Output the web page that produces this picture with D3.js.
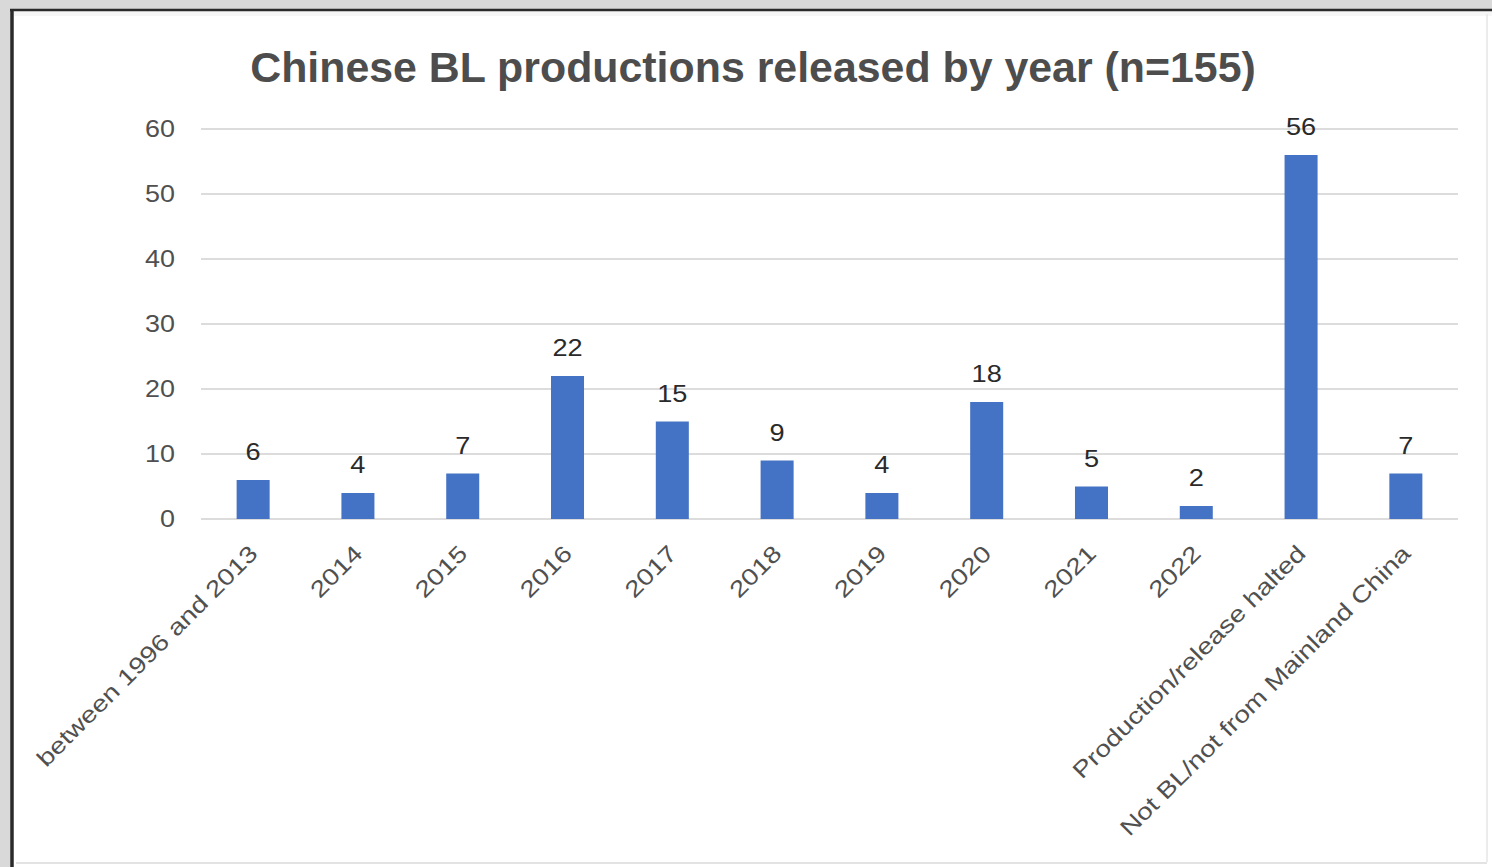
<!DOCTYPE html>
<html><head><meta charset="utf-8">
<script src="https://cdn.jsdelivr.net/npm/d3@7"></script>
<style>
html,body{margin:0;padding:0;background:#d9d9d9;}
svg{display:block;font-family:"Liberation Sans",Arial,Helvetica,sans-serif;}
</style></head>
<body>
<script>
const categories = ["between 1996 and 2013","2014","2015","2016","2017","2018","2019","2020","2021","2022","Production/release halted","Not BL/not from Mainland China"];
const values = [6,4,7,22,15,9,4,18,5,2,56,7];
const yTicks = [0,10,20,30,40,50,60];
const title = "Chinese BL productions released by year (n=155)";

(function(){
const W = 1492, H = 867;
const svg = d3.select("body").append("svg").attr("width", W).attr("height", H);

function widen(sel, f) {
  sel.each(function(){
    const L = this.getComputedTextLength();
    d3.select(this).attr("textLength", L * f).attr("lengthAdjust", "spacingAndGlyphs");
  });
}

// frame
svg.append("rect").attr("x",0).attr("y",0).attr("width",W).attr("height",H).attr("fill","#d9d9d9");
svg.append("rect").attr("x",12).attr("y",10).attr("width",W-12).attr("height",H-10).attr("fill","#ffffff");
svg.append("rect").attr("x",14).attr("y",11).attr("width",W-14).attr("height",5).attr("fill","#f6f6f6");
svg.append("line").attr("x1",10).attr("x2",W).attr("y1",10).attr("y2",10).attr("stroke","#2a2a2a").attr("stroke-width",2.5);
svg.append("line").attr("x1",12).attr("x2",12).attr("y1",9).attr("y2",H).attr("stroke","#2a2a2a").attr("stroke-width",3.5);
svg.append("line").attr("x1",1487).attr("x2",1487).attr("y1",14).attr("y2",862).attr("stroke","#e6e6e6").attr("stroke-width",1.5);
svg.append("line").attr("x1",16).attr("x2",1487).attr("y1",863).attr("y2",863).attr("stroke","#e3e3e3").attr("stroke-width",2);

const pLeft = 201, pRight = 1458, pTop = 129, pBottom = 519;
const x = d3.scaleBand().domain(categories).range([pLeft, pRight]).paddingInner(0.685).paddingOuter(0.34);
const y = d3.scaleLinear().domain([0,60]).range([pBottom, pTop]);

// gridlines
svg.append("g").selectAll("line").data(yTicks).join("line")
  .attr("x1", pLeft).attr("x2", pRight)
  .attr("y1", d => y(d)).attr("y2", d => y(d))
  .attr("stroke", "#dcdcdc").attr("stroke-width", 2);

// y axis
const yAxis = svg.append("g").attr("transform", `translate(${pLeft},0)`)
  .call(d3.axisLeft(y).tickValues(yTicks).tickSize(0).tickPadding(26));
yAxis.select(".domain").remove();
yAxis.selectAll("text").attr("font-size", 23).attr("fill", "#505050")
  .attr("font-family", "Liberation Sans, Arial, sans-serif");
widen(yAxis.selectAll("text"), 1.17);

// bars
svg.append("g").selectAll("rect").data(values).join("rect")
  .attr("x", (d,i) => x(categories[i]))
  .attr("width", x.bandwidth())
  .attr("y", d => y(d))
  .attr("height", d => y(0) - y(d))
  .attr("fill", "#4472c4");

// value labels
const vl = svg.append("g").selectAll("text").data(values).join("text")
  .attr("x", (d,i) => x(categories[i]) + x.bandwidth()/2)
  .attr("y", d => y(d) - 20)
  .attr("text-anchor", "middle")
  .attr("font-size", 23).attr("fill", "#2a2a2a")
  .text(d => d);
widen(vl, 1.18);

// x axis
const xAxis = svg.append("g").attr("transform", `translate(0,${pBottom})`)
  .call(d3.axisBottom(x).tickSize(0).tickPadding(0));
xAxis.select(".domain").remove();
xAxis.selectAll("text")
  .attr("font-size", 23).attr("fill", "#505050")
  .attr("font-family", "Liberation Sans, Arial, sans-serif")
  .attr("text-anchor", "end")
  .attr("dy", 0)
  .attr("transform", "translate(6,36) rotate(-45)");
widen(xAxis.selectAll("text"), 1.22);

// title
const t = svg.append("text").attr("x", 753).attr("y", 82)
  .attr("text-anchor", "middle").attr("font-weight", "bold")
  .attr("font-size", 40).attr("fill", "#4d4d4d")
  .text(title);
const tw = t.node().getComputedTextLength();
t.attr("font-size", 40 * 1006 / tw);
})();
</script>
</body></html>
